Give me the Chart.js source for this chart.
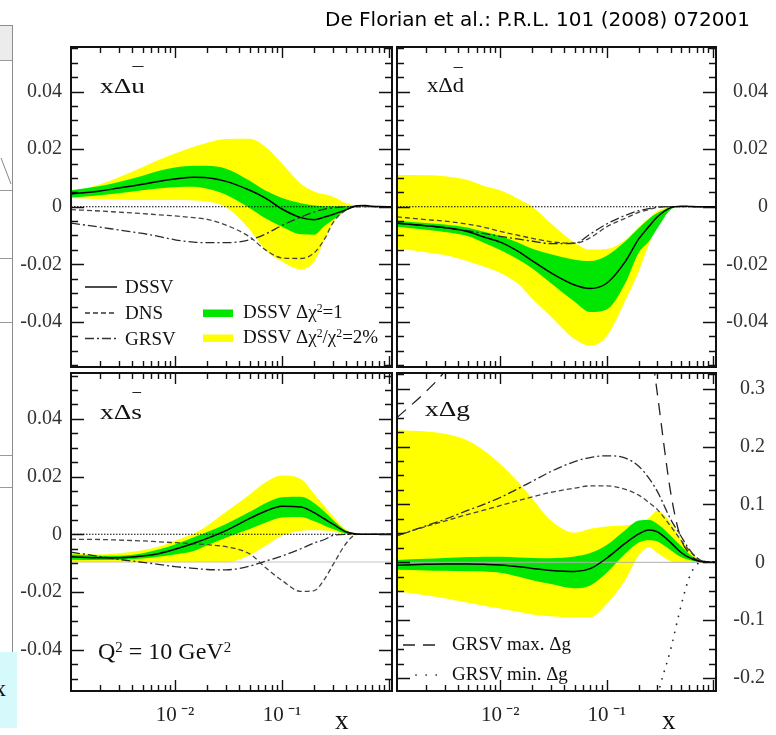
<!DOCTYPE html>
<html><head><meta charset="utf-8">
<script src="https://cdn.jsdelivr.net/npm/chart.js@4.4.1/dist/chart.umd.min.js"></script>
<style>
html,body{margin:0;padding:0;background:#fff}
#wrap{position:relative;width:776px;height:735px;overflow:hidden;background:#fff}
canvas{position:absolute;left:0;top:0}
.t{position:absolute;font-family:"Liberation Serif","Times New Roman",serif;color:#111;white-space:nowrap;line-height:1;transform-origin:0 0}
.t sup{font-size:0.62em;vertical-align:baseline;position:relative;top:-0.5em}
.bar{position:relative}
.bar i{position:absolute;left:12%;right:12%;top:-0.32em;border-top:1.5px solid #222}
</style></head>
<body><div id="wrap">
<!-- sliver of neighbouring slide on the left -->
<div style="position:absolute;left:-1px;top:25px;width:12px;height:626px;border:1px solid #8c8c8c;background:#fff"></div>
<div style="position:absolute;left:0;top:26px;width:12px;height:34px;background:#ececec;border-bottom:1px solid #9a9a9a"></div>
<div style="position:absolute;left:0;top:190px;width:12px;border-top:1px solid #9a9a9a"></div>
<div style="position:absolute;left:0;top:258px;width:12px;border-top:1px solid #9a9a9a"></div>
<div style="position:absolute;left:0;top:322px;width:12px;border-top:1px solid #9a9a9a"></div>
<div style="position:absolute;left:0;top:455px;width:12px;border-top:1px solid #9a9a9a"></div>
<div style="position:absolute;left:0;top:487px;width:12px;border-top:1px solid #9a9a9a"></div>
<svg style="position:absolute;left:0;top:0" width="20" height="200"><line x1="1" y1="158" x2="11" y2="184" stroke="#888" stroke-width="1"/></svg>
<div style="position:absolute;left:0;top:652px;width:17px;height:76px;background:#d6fafc"></div>
<div class="t" style="left:-6px;top:676px;font-size:24px">x</div>

<canvas id="cU" width="776" height="735"></canvas>
<canvas id="cD" width="776" height="735"></canvas>
<canvas id="cS" width="776" height="735"></canvas>
<canvas id="cG" width="776" height="735"></canvas>

<svg style="position:absolute;left:0;top:0" width="776" height="735">
  <line x1="85" y1="287" x2="117" y2="287" stroke="#000" stroke-width="1.4"/>
  <line x1="85" y1="313" x2="117" y2="313" stroke="#333" stroke-width="1.3" stroke-dasharray="5 3"/>
  <line x1="85" y1="338.5" x2="117" y2="338.5" stroke="#333" stroke-width="1.3" stroke-dasharray="9 3 2 3"/>
  <rect x="203" y="309.5" width="30" height="7.5" fill="#00e600"/>
  <rect x="203" y="334.5" width="30" height="7.5" fill="#ffff00"/>
  <line x1="403" y1="645" x2="443" y2="645" stroke="#222" stroke-width="1.3" stroke-dasharray="12 8"/>
  <line x1="416" y1="675" x2="446" y2="675" stroke="#222" stroke-width="1.7" stroke-dasharray="0.1 10" stroke-linecap="round"/>
</svg>

<div class="t" id="cite" style="left:325px;top:9px;font-family:'DejaVu Sans',sans-serif;font-size:20px;color:#000">De Florian et al.: P.R.L. 101 (2008) 072001</div>

<div class="t pl" style="left:100px;top:74.6px;font-size:22px">xΔ<span class="bar">u<i></i></span></div>
<div class="t pl" style="left:427px;top:73.6px;font-size:22px">xΔ<span class="bar">d<i style="top:-0.2em"></i></span></div>
<div class="t pl" style="left:100px;top:400.6px;font-size:22px">xΔ<span class="bar">s<i></i></span></div>
<div class="t pl" style="left:425px;top:397.6px;font-size:22px">xΔg</div>

<div class="t" style="left:125px;top:277.1px;font-size:19px">DSSV</div>
<div class="t" style="left:125px;top:303.1px;font-size:19px">DNS</div>
<div class="t" style="left:125px;top:328.6px;font-size:19px">GRSV</div>
<div class="t" style="left:243px;top:302.1px;font-size:19px">DSSV Δχ<sup>2</sup>=1</div>
<div class="t" style="left:243px;top:327.1px;font-size:19px">DSSV Δχ<sup>2</sup>/χ<sup>2</sup>=2%</div>

<div class="t" style="left:98px;top:639px;font-size:24px">Q<sup>2</sup> = 10 GeV<sup>2</sup></div>

<div class="t" style="left:452px;top:634.1px;font-size:19px">GRSV max. Δg</div>
<div class="t" style="left:452px;top:664.1px;font-size:19px">GRSV min. Δg</div>

<div class="t" style="left:335px;top:707.4px;font-size:27px">x</div>
<div class="t" style="left:662px;top:707.4px;font-size:27px">x</div>
</div>

<script>
// ---------------- data ----------------
const xGrid = [0.00107,0.002,0.003,0.005,0.007,0.01,0.015,0.02,0.03,0.05,0.07,0.1,0.15,0.2,0.25,0.3,0.4,0.5,0.6,0.7,0.8,1.065];

const ubarDSSV     = [0.0044,0.0055,0.0065,0.0078,0.0088,0.0096,0.0102,0.0101,0.0088,0.0057,0.0030,-0.0008,-0.0038,-0.0045,-0.0036,-0.0027,-0.0010,0.0003,0.0004,0.0002,0.0001,0];
const ubarGreenHi  = [0.0057,0.0072,0.0086,0.0108,0.0124,0.0136,0.0142,0.0142,0.0132,0.0090,0.0056,0.0030,0.0012,0.0004,0.0002,0.0002,0.0002,0.0004,0.0004,0.0002,0.0001,0];
const ubarGreenLo  = [0.0032,0.0040,0.0047,0.0057,0.0063,0.0068,0.0069,0.0062,0.0042,-0.0005,-0.0040,-0.0070,-0.0096,-0.0097,-0.0066,-0.0045,-0.0012,0.0001,0.0003,0.0002,0.0001,0];
const ubarYellowHi = [0.0050,0.0078,0.0102,0.0138,0.0162,0.0185,0.0208,0.0222,0.0235,0.0236,0.0208,0.0150,0.0080,0.0053,0.0043,0.0035,0.0012,0.0004,0.0003,0.0002,0.0001,0];
const ubarYellowLo = [0.0030,0.0026,0.0024,0.0023,0.0023,0.0023,0.0022,0.0018,-0.0002,-0.0080,-0.0150,-0.0190,-0.0217,-0.0190,-0.0115,-0.0055,-0.0012,0.0001,0.0001,0,0,0];
const ubarDNS      = [-0.0010,-0.0015,-0.0019,-0.0024,-0.0028,-0.0032,-0.0038,-0.0044,-0.0064,-0.0105,-0.0150,-0.0178,-0.0180,-0.0160,-0.0112,-0.0055,-0.0010,0,0,0,0,0];
const ubarGRSV     = [-0.0057,-0.0071,-0.0081,-0.0093,-0.0103,-0.0115,-0.0123,-0.0125,-0.0125,-0.0115,-0.0095,-0.0065,-0.0036,-0.0018,-0.0008,-0.0004,0,0,0,0,0,0];

const dbarDSSV     = [-0.0057,-0.0066,-0.0073,-0.0087,-0.0105,-0.0123,-0.0157,-0.0188,-0.0230,-0.0272,-0.0284,-0.0266,-0.0190,-0.0112,-0.0068,-0.0035,-0.0003,0.0002,0.0001,0,0,0];
const dbarGreenHi  = [-0.0049,-0.0057,-0.0062,-0.0073,-0.0087,-0.0102,-0.0126,-0.0146,-0.0165,-0.0184,-0.0189,-0.0170,-0.0120,-0.0075,-0.0042,-0.0022,-0.0002,0.0002,0.0001,0,0,0];
const dbarGreenLo  = [-0.0070,-0.0080,-0.0088,-0.0103,-0.0125,-0.0150,-0.0185,-0.0215,-0.0266,-0.0330,-0.0366,-0.0357,-0.0265,-0.0160,-0.0120,-0.0075,-0.0010,0.0001,0,0,0,0];
const dbarYellowHi = [0.0110,0.0109,0.0106,0.0092,0.0072,0.0057,0.0026,0.0000,-0.0058,-0.0125,-0.0149,-0.0147,-0.0115,-0.0070,-0.0040,-0.0015,-0.0001,0.0002,0.0001,0,0,0];
const dbarYellowLo = [-0.0145,-0.0158,-0.0168,-0.0190,-0.0208,-0.0230,-0.0270,-0.0320,-0.0382,-0.0460,-0.0483,-0.0450,-0.0325,-0.0225,-0.0130,-0.0060,-0.0007,0.0001,0,0,0,0];
const dbarDNS      = [-0.0035,-0.0045,-0.0050,-0.0061,-0.0071,-0.0086,-0.0100,-0.0110,-0.0122,-0.0127,-0.0108,-0.0070,-0.0040,-0.0020,-0.0010,-0.0002,0,0,0,0,0,0];
const dbarGRSV     = [-0.0058,-0.0066,-0.0072,-0.0084,-0.0093,-0.0103,-0.0113,-0.0120,-0.0128,-0.0127,-0.0095,-0.0060,-0.0030,-0.0014,-0.0007,-0.0001,0,0,0,0,0,0];

const sbarDSSV     = [-0.0078,-0.0081,-0.0081,-0.0075,-0.0067,-0.0052,-0.0031,-0.0014,0.0013,0.0055,0.0080,0.0097,0.0095,0.0075,0.0053,0.0035,0.0008,0.0001,0,0,0,0];
const sbarGreenHi  = [-0.0070,-0.0074,-0.0074,-0.0066,-0.0053,-0.0035,-0.0010,0.0008,0.0036,0.0078,0.0108,0.0128,0.0130,0.0108,0.0078,0.0050,0.0012,0.0001,0,0,0,0];
const sbarGreenLo  = [-0.0088,-0.0089,-0.0088,-0.0084,-0.0078,-0.0070,-0.0058,-0.0038,-0.0012,0.0018,0.0040,0.0058,0.0060,0.0045,0.0030,0.0018,0.0002,0,0,0,0,0];
const sbarYellowHi = [-0.0062,-0.0070,-0.0066,-0.0055,-0.0043,-0.0022,0.0003,0.0030,0.0078,0.0138,0.0180,0.0204,0.0192,0.0140,0.0097,0.0062,0.0015,0.0002,0,0,0,0];
const sbarYellowLo = [-0.0097,-0.0097,-0.0097,-0.0097,-0.0097,-0.0097,-0.0097,-0.0097,-0.0097,-0.0073,-0.0040,-0.0005,0.0012,0.0015,0.0013,0.0010,0.0002,0,0,0,0,0];
const sbarDNS      = [-0.0017,-0.0018,-0.0020,-0.0023,-0.0026,-0.0029,-0.0033,-0.0036,-0.0043,-0.0068,-0.0115,-0.0160,-0.0198,-0.0195,-0.0155,-0.0105,-0.0030,0,0,0,0,0];
const sbarGRSV     = [-0.0062,-0.0077,-0.0087,-0.0097,-0.0104,-0.0112,-0.0118,-0.0122,-0.0123,-0.0110,-0.0093,-0.0075,-0.0050,-0.0030,-0.0018,-0.0004,0,0,0,0,0,0];

const gDSSV        = [-0.0050,-0.0035,-0.0030,-0.0030,-0.0035,-0.0045,-0.0075,-0.0105,-0.0140,-0.0160,-0.0110,0.0070,0.0330,0.0490,0.0560,0.0525,0.0340,0.0170,0.0080,0.0030,0.0010,0];
const gGreenHi     = [0.0040,0.0060,0.0075,0.0090,0.0097,0.0095,0.0085,0.0075,0.0072,0.0100,0.0160,0.0300,0.0560,0.0720,0.0730,0.0660,0.0460,0.0280,0.0140,0.0060,0.0020,0];
const gGreenLo     = [-0.0130,-0.0140,-0.0148,-0.0155,-0.0160,-0.0180,-0.0250,-0.0310,-0.0375,-0.0450,-0.0400,-0.0180,0.0150,0.0340,0.0380,0.0360,0.0210,0.0090,0.0040,0.0010,0,0];
const gYellowHi    = [0.228,0.226,0.222,0.210,0.193,0.170,0.137,0.110,0.072,0.051,0.058,0.062,0.064,0.068,0.077,0.089,0.068,0.040,0.020,0.008,0.002,0];
const gYellowLo    = [-0.050,-0.057,-0.062,-0.070,-0.075,-0.080,-0.086,-0.090,-0.093,-0.095,-0.095,-0.072,-0.030,0.012,0.026,0.016,0.002,0,0,0,0,0];
const gDNS         = [0.046,0.062,0.071,0.083,0.090,0.098,0.107,0.113,0.121,0.128,0.132,0.132,0.126,0.116,0.103,0.091,0.062,0.038,0.020,0.008,0.002,0];
const gGRSV        = [0.046,0.063,0.074,0.090,0.100,0.112,0.128,0.140,0.157,0.174,0.181,0.184,0.180,0.166,0.145,0.122,0.074,0.045,0.022,0.008,0.002,0];
const gGRSVmax     = [0.250,0.295,0.330,0.40,0.45,0.50,0.55,0.60,0.65,0.70,0.72,0.72,0.65,0.52,0.40,0.29,0.12,0.040,0.015,0.004,0.001,0];
const gGRSVmin     = [-0.30,-0.35,-0.38,-0.42,-0.45,-0.48,-0.50,-0.52,-0.54,-0.56,-0.57,-0.56,-0.50,-0.42,-0.33,-0.235,-0.150,-0.075,-0.025,-0.004,0,0];

const zeroLine     = [0, 0];            // y = 0 reference
const sbarRowRule  = [-0.0096, -0.0096]; // faint rule of the lower row (gluon zero level)

const xTicks       = [0.01, 0.1];
const xTickLabels  = ['10\u2009\u207B\u00B2', '10\u2009\u207B\u00B9'];
const quarkYTicks  = [-0.04, -0.02, 0, 0.02, 0.04];
const quarkYLabels = ['-0.04', '-0.02', '0', '0.02', '0.04'];
const gluonYTicks  = [-0.2, -0.1, 0, 0.1, 0.2, 0.3];
const gluonYLabels = ['-0.2', '-0.1', '0', '0.1', '0.2', '0.3'];

// ---------------- styling / layout ----------------
const X_MIN = 0.00107, X_MAX = 1.065;
const YELLOW = '#ffff00', GREEN = '#00e600';
const SERIF = "'Liberation Serif','Times New Roman',serif";
const pts = arr => xGrid.map((x, i) => ({x, y: arr[i]}));
const ends = arr => [{x: X_MIN, y: arr[0]}, {x: X_MAX, y: arr[1]}];

const lineBase = {fill: false, pointRadius: 0, cubicInterpolationMode: 'monotone', borderCapStyle: 'butt'};
const sDSSV = {borderColor: '#000', borderWidth: 1.5};
const sDNS  = {borderColor: '#444', borderWidth: 1.3, borderDash: [5, 3]};
const sGRSV = {borderColor: '#2a2a2a', borderWidth: 1.3, borderDash: [9, 3, 2, 3]};
const sZero = {borderColor: '#000', borderWidth: 1.1, borderDash: [1.5, 1.5]};

function L(data, style) { return Object.assign({data}, lineBase, style); }
function band(lo, hi, color) {
  return [
    Object.assign({data: pts(lo)}, lineBase, {borderWidth: 0, borderColor: 'rgba(0,0,0,0)'}),
    Object.assign({data: pts(hi)}, lineBase, {borderWidth: 0, borderColor: 'rgba(0,0,0,0)', fill: '-1', backgroundColor: color})
  ];
}

const frameTicks = {
  id: 'frameTicks',
  afterDatasetsDraw(chart, args, o) {
    const {ctx, chartArea: a, scales: {x, y}} = chart;
    ctx.save();
    ctx.strokeStyle = '#111';
    ctx.lineWidth = 1.4;
    ctx.beginPath();
    const k0 = Math.ceil(y.min / o.yMinor - 1e-9), k1 = Math.floor(y.max / o.yMinor + 1e-9);
    for (let k = k0; k <= k1; k++) {
      const v = k * o.yMinor, r = v / o.yMajor;
      const len = Math.abs(r - Math.round(r)) < 1e-6 ? 13 : 7;
      const py = Math.round(y.getPixelForValue(v)) + 0.5;
      ctx.moveTo(a.left, py); ctx.lineTo(a.left + len, py);
      ctx.moveTo(a.right, py); ctx.lineTo(a.right - len, py);
    }
    for (let e = -4; e <= 0; e++) for (let m = 1; m <= 9; m++) {
      const v = m * Math.pow(10, e);
      if (v <= x.min * 1.001 || v >= x.max * 0.999) continue;
      const len = m === 1 ? 11 : 6;
      const px = Math.round(x.getPixelForValue(v)) + 0.5;
      ctx.moveTo(px, a.top); ctx.lineTo(px, a.top + len);
      ctx.moveTo(px, a.bottom); ctx.lineTo(px, a.bottom - len);
    }
    ctx.stroke();
    ctx.lineWidth = 2;
    ctx.strokeRect(a.left, a.top, a.right - a.left, a.bottom - a.top);
    ctx.restore();
  }
};

function makePanel(id, p) {
  return new Chart(document.getElementById(id), {
    type: 'line',
    data: {datasets: p.datasets},
    options: {
      responsive: false, animation: false, events: [],
      layout: {padding: p.padding, autoPadding: false},
      plugins: {legend: {display: false}, tooltip: {enabled: false},
                frameTicks: {yMinor: p.yMinor, yMajor: p.yMajor}},
      scales: {
        x: {
          type: 'logarithmic', min: X_MIN, max: X_MAX, display: p.showX, position: 'bottom',
          grid: {display: false, drawTicks: false}, border: {display: false},
          afterBuildTicks: s => { s.ticks = xTicks.map(v => ({value: v})); },
          afterFit: s => { s.height = p.showX ? 44 : 0; },
          ticks: {autoSkip: false, maxRotation: 0, padding: 12, color: '#222',
                  font: {family: SERIF, size: 21},
                  callback: (v, i) => xTickLabels[i]}
        },
        y: {
          type: 'linear', min: p.yMin, max: p.yMax, position: p.yPos,
          grid: {display: false, drawTicks: false}, border: {display: false},
          afterBuildTicks: s => { s.ticks = p.yTicks.map(v => ({value: v})); },
          afterFit: s => { s.width = p.yWidth; },
          ticks: {autoSkip: false, padding: 9, color: '#333', crossAlign: p.yPos === 'right' ? 'far' : 'near',
                  font: {family: SERIF, size: 20},
                  callback: (v, i) => p.yLabels[i]}
        }
      }
    },
    plugins: [frameTicks]
  });
}

// top-left: x Δubar
makePanel('cU', {
  padding: {left: 21, top: 47, right: 384, bottom: 368},
  yMin: -0.0557, yMax: 0.0555, yPos: 'left', yWidth: 50, showX: false,
  yTicks: quarkYTicks, yLabels: quarkYLabels, yMinor: 0.005, yMajor: 0.02,
  datasets: [
    L(pts(ubarDSSV), sDSSV), L(pts(ubarDNS), sDNS), L(pts(ubarGRSV), sGRSV),
    L(ends(zeroLine), sZero),
    ...band(ubarGreenLo, ubarGreenHi, GREEN),
    ...band(ubarYellowLo, ubarYellowHi, YELLOW)
  ]
});
// top-right: x Δdbar
makePanel('cD', {
  padding: {left: 397, top: 47, right: 8, bottom: 368},
  yMin: -0.0557, yMax: 0.0555, yPos: 'right', yWidth: 52, showX: false,
  yTicks: quarkYTicks, yLabels: quarkYLabels, yMinor: 0.005, yMajor: 0.02,
  datasets: [
    L(pts(dbarDSSV), sDSSV), L(pts(dbarDNS), sDNS), L(pts(dbarGRSV), sGRSV),
    L(ends(zeroLine), sZero),
    ...band(dbarGreenLo, dbarGreenHi, GREEN),
    ...band(dbarYellowLo, dbarYellowHi, YELLOW)
  ]
});
// bottom-left: x Δsbar
makePanel('cS', {
  padding: {left: 21, top: 373, right: 384, bottom: 0},
  yMin: -0.0543, yMax: 0.0559, yPos: 'left', yWidth: 50, showX: true,
  yTicks: quarkYTicks, yLabels: quarkYLabels, yMinor: 0.005, yMajor: 0.02,
  datasets: [
    L(pts(sbarDSSV), sDSSV), L(pts(sbarDNS), sDNS), L(pts(sbarGRSV), sGRSV),
    L(ends(zeroLine), sZero),
    L(ends(sbarRowRule), {borderColor: '#c4c4c4', borderWidth: 1}),
    ...band(sbarGreenLo, sbarGreenHi, GREEN),
    ...band(sbarYellowLo, sbarYellowHi, YELLOW)
  ]
});
// bottom-right: x Δg
makePanel('cG', {
  padding: {left: 397, top: 373, right: 11, bottom: 0},
  yMin: -0.2223, yMax: 0.327, yPos: 'right', yWidth: 49, showX: true,
  yTicks: gluonYTicks, yLabels: gluonYLabels, yMinor: 0.025, yMajor: 0.1,
  datasets: [
    L(pts(gDSSV), sDSSV), L(pts(gDNS), sDNS), L(pts(gGRSV), sGRSV),
    L(pts(gGRSVmax), {borderColor: '#222', borderWidth: 1.3, borderDash: [12, 8]}),
    L(pts(gGRSVmin), {borderColor: '#222', borderWidth: 1.7, borderDash: [0.1, 8], borderCapStyle: 'round'}),
    L(ends(zeroLine), {borderColor: '#b0b0b0', borderWidth: 1}),
    ...band(gGreenLo, gGreenHi, GREEN),
    ...band(gYellowLo, gYellowHi, YELLOW)
  ]
});

// stretch some labels horizontally to the measured widths of the reference
function fitW(el, w) { const r = el.getBoundingClientRect().width; el.style.transform = 'scaleX(' + (w / r) + ')'; }
fitW(document.getElementById('cite'), 425);
const pls = document.querySelectorAll('.pl');
[45, 37, 42, 45].forEach((w, i) => fitW(pls[i], w));
</script>
</body></html>
